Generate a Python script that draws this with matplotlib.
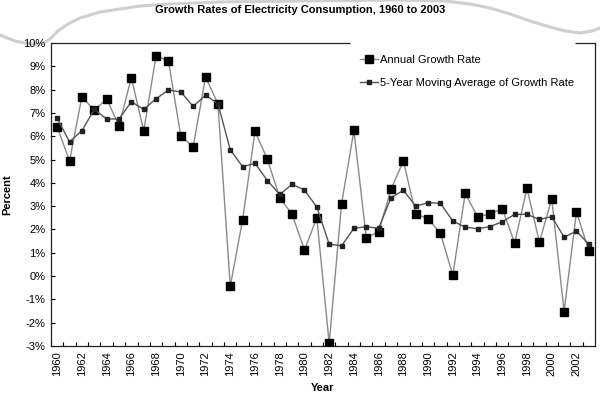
import matplotlib
matplotlib.use("Agg")
import matplotlib.pyplot as plt
from matplotlib.lines import Line2D
from matplotlib.ticker import FuncFormatter, FixedLocator

# Données (en %)
years = list(range(1960, 2004))
annual = [6.4, 4.94, 7.7, 7.11, 7.6, 6.45, 8.51, 6.22, 9.46, 9.23,
          6.0, 5.55, 8.54, 7.4, -0.44, 2.42, 6.21, 5.02, 3.36, 2.65,
          1.12, 2.5, -2.89, 3.1, 6.25, 1.64, 1.9, 3.72, 4.94, 2.67,
          2.46, 1.83, 0.04, 3.55, 2.55, 2.66, 2.89, 1.42, 3.76, 1.46,
          3.3, -1.52, 2.75, 1.09]
moving_avg = [6.77, 5.76, 6.24, 7.15, 6.74, 6.74, 7.48, 7.15, 7.61, 7.98,
              7.9, 7.28, 7.76, 7.4, 5.42, 4.69, 4.84, 4.1, 3.5, 3.94,
              3.69, 2.96, 1.37, 1.3, 2.05, 2.12, 2.05, 3.36, 3.68, 3.0,
              3.15, 3.12, 2.36, 2.1, 2.03, 2.12, 2.33, 2.65, 2.65, 2.43,
              2.55, 1.67, 1.93, 1.36]
year_labels = [str(y) for y in range(1960, 2004, 2)]

plt.rcParams['font.family'] = ['Liberation Sans', 'DejaVu Sans']

W, H = 600, 399
fig = plt.figure(figsize=(W / 100, H / 100), dpi=100)
fig.patch.set_facecolor('white')

# Trait gris décoratif (effet papier déchiré) en haut
curve_x = [0, 15, 30, 42, 50, 58, 68, 80, 100, 120, 140, 170, 220, 300,
           400, 445, 470, 490, 510, 530, 550, 565, 580, 592, 600]
curve_y = [35, 41, 44, 44, 39, 31, 24, 18, 12, 9, 6, 4, 2, 1,
           0, 1, 4, 8, 14, 21, 27, 31, 33, 31, 28]
fig.add_artist(Line2D([x / W for x in curve_x], [1 - y / H for y in curve_y],
                      color='#cfcfcf', linewidth=2.2, zorder=0))

ax = fig.add_axes([51 / W, 1 - 346 / H, 544 / W, 303 / H])
ax.set_facecolor('white')

ax.plot(years, annual, color='#8a8a8a', linewidth=1.0, marker='s',
        markersize=5.2, markerfacecolor='black', markeredgecolor='black',
        label='Annual Growth Rate', zorder=3)
ax.plot(years, moving_avg, color='#555555', linewidth=1.0, marker='s',
        markersize=3.2, markerfacecolor='#222222', markeredgecolor='#222222',
        label='5-Year Moving Average of Growth Rate', zorder=4)

ax.set_xlim(1959.5, 2003.5)
ax.set_ylim(-3, 10)

# Axe des catégories : graduations entre les années, étiquettes au centre
ax.xaxis.set_major_locator(FixedLocator(list(range(1960, 2004, 2))))
ax.set_xticklabels(year_labels, rotation=90, fontsize=8)
ax.xaxis.set_minor_locator(FixedLocator([y + 0.5 for y in range(1959, 2003)]))
ax.tick_params(axis='x', which='major', length=0, pad=4)
ax.tick_params(axis='x', which='minor', direction='in', length=3, width=0.8)

ax.set_yticks(range(-3, 11))
ax.yaxis.set_major_formatter(FuncFormatter(lambda v, p: f"{v:.0f}%"))
ax.tick_params(axis='y', direction='in', length=3, width=0.8, labelsize=8, pad=4)

for side in ['bottom', 'left', 'right']:
    ax.spines[side].set_linewidth(0.9)
    ax.spines[side].set_color('#222222')

# Bord du haut coupé là où se trouve la légende
ax.spines['top'].set_visible(False)
gap_start = (350 - 51) / 544
gap_end = (575 - 51) / 544
for x0, x1 in [(0, gap_start), (gap_end, 1)]:
    ax.plot([x0, x1], [1, 1], transform=ax.transAxes, color='#222222',
            linewidth=0.9, clip_on=False, solid_capstyle='butt')

ax.set_xlabel('Year', fontsize=8, fontweight='bold', labelpad=5)
ax.set_ylabel('Percent', fontsize=8, fontweight='bold', labelpad=8)

fig.text(0.5, 1 - 10 / H, 'Growth Rates of Electricity Consumption, 1960 to 2003',
         ha='center', va='center', fontsize=8, fontweight='bold')

leg = ax.legend(loc='upper left', bbox_to_anchor=(350 / W, 1 - 45 / H),
                bbox_transform=fig.transFigure, fontsize=8, frameon=False,
                handlelength=1.6, handletextpad=0.2,
                labelspacing=1.2, borderpad=0.9, borderaxespad=0)

fig.savefig('out.png', dpi=100)
